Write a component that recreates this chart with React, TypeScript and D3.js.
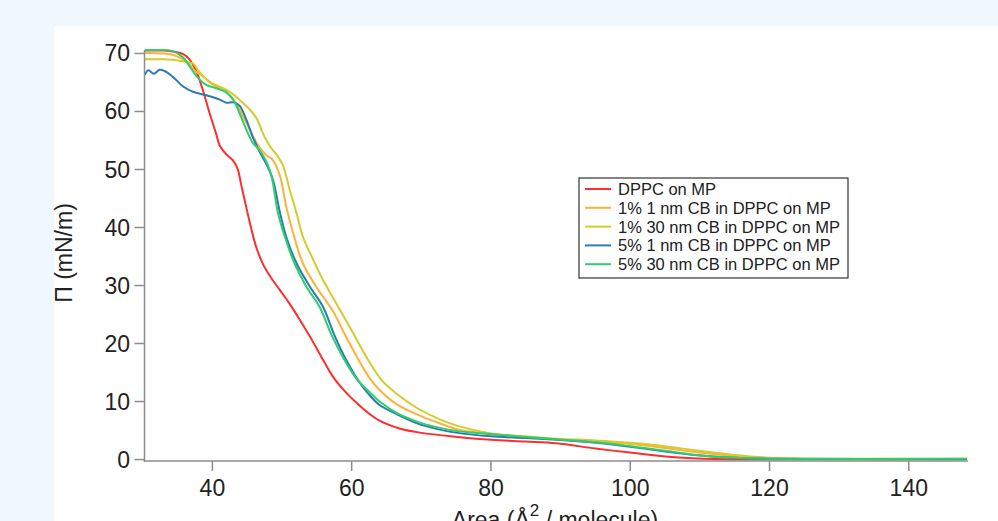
import React from "react";
import * as d3 from "d3";

type P = [number, number];

const seriesNames = [
  "DPPC on MP",
  "1% 1 nm CB in DPPC on MP",
  "1% 30 nm CB in DPPC on MP",
  "5% 1 nm CB in DPPC on MP",
  "5% 30 nm CB in DPPC on MP",
];
const seriesColors = ["#ff2d2d", "#ffb03a", "#d3cc2c", "#2a7bb2", "#2dcf6c"];

const dppc: P[] = [
  [30.3, 70.5], [33, 70.5], [34.5, 70.3], [35.8, 69.9], [36.7, 69.0], [37.7, 66.9],
  [38.6, 63.8], [39.6, 59.7], [40.5, 56.3], [41.1, 54.0], [42, 52.6], [43, 51.5],
  [43.6, 50.2], [44.2, 47.0], [44.9, 43.3], [45.5, 40.2], [46.3, 36.6], [47.3, 33.6],
  [48.5, 31.2], [49.7, 29.2], [51, 27.0], [52.5, 24.2], [54, 21.2], [55.7, 17.6],
  [57.3, 14.3], [59, 11.8], [60.5, 10.0], [62.1, 8.3], [64, 6.7], [67, 5.3],
  [70, 4.6], [75.2, 3.9], [80, 3.4], [85, 3.1], [89.4, 2.8], [95, 1.9], [100, 1.2],
  [106.4, 0.4], [112, 0.1], [120, 0.05], [130, 0.05], [148.3, 0.05],
];
const cb1nm1: P[] = [
  [30.3, 70.1], [33, 70.0], [34.5, 69.7], [36.3, 68.6], [37.5, 67.0], [38.7, 66.0],
  [40.1, 64.6], [42, 63.4], [43.4, 61.4], [44.9, 58.0], [46.3, 54.7], [47.8, 52.4],
  [48.5, 51.9], [49.2, 50.5], [49.8, 48.5], [50.6, 43.6], [51.6, 39.0], [53, 33.8],
  [54.9, 29.8], [57.3, 25.6], [59, 21.6], [60.8, 17.6], [62.6, 14.0], [64, 12.0],
  [66.5, 9.5], [69.5, 7.7], [72.5, 6.3], [75.2, 5.2], [80, 4.4], [85, 3.9], [89.4, 3.5],
  [95, 3.1], [100, 2.7], [105, 2.0], [109.3, 1.3], [115, 0.6], [120, 0.25], [125, 0.1],
  [148.3, 0.1],
];
const cb30nm1: P[] = [
  [30.3, 69.0], [33, 69.0], [35.5, 68.7], [36.5, 68.5], [37.2, 68.3], [38.2, 66.7],
  [39.6, 65.1], [41, 64.3], [42.5, 63.4], [43.9, 62.0], [45.4, 60.3], [46.3, 58.9],
  [47.5, 55.6], [48.5, 53.6], [49.2, 52.6], [50.1, 50.8], [51.1, 46.5], [52.1, 42.4],
  [53, 38.4], [54.5, 34.4], [55.9, 30.9], [57.8, 26.9], [60.2, 21.8], [62.3, 17.3],
  [64.3, 13.7], [66.5, 11.3], [69.5, 8.8], [72.5, 7.0], [75.2, 5.8], [80, 4.5],
  [85, 4.0], [89.4, 3.6], [95, 3.3], [100, 2.9], [105, 2.3], [109.3, 1.6], [115, 0.8],
  [120, 0.3], [125, 0.15], [148.3, 0.15],
];
const cb1nm5: P[] = [
  [30.3, 66.3], [30.8, 67.1], [31.6, 66.5], [32.4, 67.2], [33.1, 67.0], [34.3, 66.0],
  [35.8, 64.3], [37.2, 63.4], [39.1, 62.8], [41, 62.1], [42, 61.5], [43, 61.6],
  [43.9, 61.0], [44.9, 58.5], [45.8, 55.6], [46.8, 53.0], [47.8, 50.8], [48.7, 48.2],
  [49.7, 42.6], [50.6, 38.4], [52.1, 33.8], [54, 29.8], [55.9, 26.3], [57.5, 21.5],
  [59.2, 17.2], [60.9, 13.7], [62.5, 11.2], [64, 9.4], [66.5, 7.8], [69.5, 6.2],
  [72.5, 5.2], [75.2, 4.6], [80, 4.0], [85, 3.7], [89.4, 3.4], [95, 2.9], [100, 2.2],
  [105, 1.4], [109.3, 0.8], [115, 0.3], [120, 0.15], [148.3, 0.1],
];
const cb30nm5: P[] = [
  [30.3, 70.6], [32, 70.6], [34.3, 70.4], [35.8, 69.3], [37, 67.3], [37.7, 66.1],
  [39.1, 64.6], [40.6, 64.0], [42, 63.3], [43, 62.0], [43.9, 59.7], [44.9, 56.8],
  [45.8, 54.6], [46.8, 53.3], [47.8, 51.2], [48.5, 48.8], [49.4, 42.6], [50.4, 38.4],
  [51.8, 33.8], [53.5, 29.8], [55.4, 26.3], [57.1, 21.5], [58.9, 17.3], [60.7, 13.9],
  [62.5, 11.7], [64, 10.0], [66.5, 8.0], [69.5, 6.5], [72.5, 5.5], [75.2, 4.9],
  [80, 4.4], [85, 3.9], [89.4, 3.5], [95, 3.0], [100, 2.3], [105, 1.5], [109.3, 0.8],
  [115, 0.3], [120, 0.15], [148.3, 0.15],
];
const seriesData: P[][] = [dppc, cb1nm1, cb30nm1, cb1nm5, cb30nm5];

const xTicks = [40, 60, 80, 100, 120, 140];
const yTicks = [0, 10, 20, 30, 40, 50, 60, 70];

const W = 998;
const H = 521;
const FONT = "'Liberation Sans', Arial, Helvetica, sans-serif";

export default function App() {
  const x = d3.scaleLinear().domain([30.25, 148.5]).range([144.5, 968]);
  const y = d3.scaleLinear().domain([-0.25, 70.6]).range([461, 50]);
  const line = d3
    .line<P>()
    .x((d) => x(d[0]))
    .y((d) => y(d[1]))
    .curve(d3.curveCatmullRom.alpha(0.5));

  const axisColor = "#8c8c8c";
  const x0 = x.range()[0];
  const y0 = y.range()[0];

  const legX = 579;
  const legY = 178;
  const rowH = 18.8;

  return (
    <svg
      width={W}
      height={H}
      style={{ position: "absolute", left: 0, top: 0 }}
      fontFamily={FONT}
    >
      <rect x={0} y={0} width={W} height={H} fill="#f0f7fd" />
      <rect x={54} y={26} width={W - 54} height={H - 26} fill="#ffffff" />

      {seriesData.map((d, i) => (
        <path
          key={i}
          d={line(d) || ""}
          fill="none"
          stroke={seriesColors[i]}
          strokeWidth={2}
          strokeLinejoin="round"
        />
      ))}

      {/* axes */}
      <line x1={x0} x2={x0} y1={y.range()[1]} y2={y0 + 0.75} stroke={axisColor} strokeWidth={1.5} />
      <line x1={x0 - 0.75} x2={x.range()[1]} y1={y0} y2={y0} stroke={axisColor} strokeWidth={1.5} />
      {yTicks.map((t) => (
        <g key={"y" + t}>
          <line x1={x0 - 10} x2={x0} y1={y(t)} y2={y(t)} stroke={axisColor} strokeWidth={1.5} />
          <text
            x={130}
            y={y(t)}
            textAnchor="end"
            dominantBaseline="central"
            fontSize={23}
            fill="#222"
          >
            {t}
          </text>
        </g>
      ))}
      {xTicks.map((t) => (
        <g key={"x" + t}>
          <line x1={x(t)} x2={x(t)} y1={y0} y2={y0 + 10} stroke={axisColor} strokeWidth={1.5} />
          <text x={x(t)} y={495.5} textAnchor="middle" fontSize={23} fill="#222">
            {t}
          </text>
        </g>
      ))}

      <text
        transform="translate(72,253) rotate(-90)"
        textAnchor="middle"
        fontSize={23}
        fill="#222"
      >
        Π (mN/m)
      </text>
      <text x={555} y={528} textAnchor="middle" fontSize={23} fill="#222">
        Area (Å
        <tspan fontSize={17} dy={-12}>2</tspan>
        <tspan dy={12}> / molecule)</tspan>
      </text>

      {/* legend */}
      <rect
        x={legX}
        y={legY}
        width={269}
        height={100}
        fill="#ffffff"
        stroke="#333"
        strokeWidth={1.2}
      />
      {seriesNames.map((n, i) => (
        <g key={n}>
          <line
            x1={legX + 6}
            x2={legX + 32}
            y1={legY + 11 + i * rowH}
            y2={legY + 11 + i * rowH}
            stroke={seriesColors[i]}
            strokeWidth={2}
          />
          <text
            x={legX + 39}
            y={legY + 11 + i * rowH}
            dominantBaseline="central"
            fontSize={16.5}
            fill="#222"
          >
            {n}
          </text>
        </g>
      ))}
    </svg>
  );
}
